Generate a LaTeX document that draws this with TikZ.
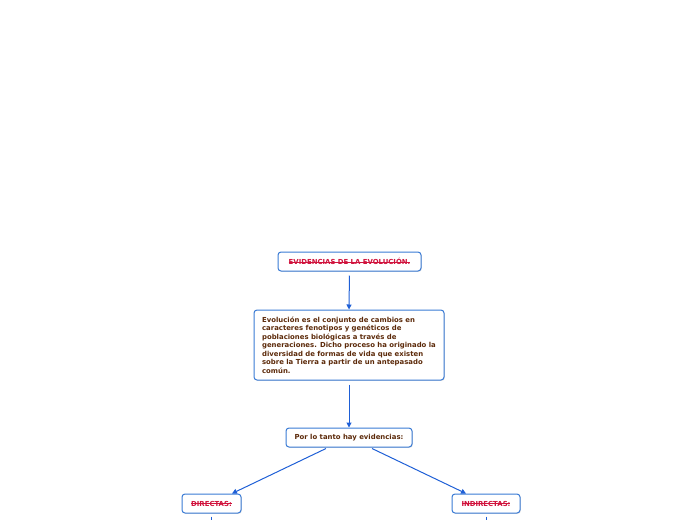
\documentclass[tikz,border=0pt]{standalone}
\usepackage{fontspec}
\setmainfont{DejaVu Sans}
\usetikzlibrary{arrows.meta,shadows}
\definecolor{boxblue}{HTML}{3A7BD5}
\definecolor{linkblue}{HTML}{1E5FD6}
\definecolor{txtbrown}{HTML}{5C2A0A}
\definecolor{txtred}{HTML}{D0123C}
\newsavebox{\strikebox}
\newcommand{\redstrike}[1]{{\color{txtred}\sbox{\strikebox}{#1}\rlap{\raisebox{0.32em}{\rule{\wd\strikebox}{0.5pt}}}\usebox{\strikebox}}}
\begin{document}
\begin{tikzpicture}[x=1pt,y=1pt,
  box/.style={draw=boxblue, line width=1pt, rounded corners=3pt, fill=white,
    drop shadow={shadow xshift=0.8pt, shadow yshift=-0.8pt, opacity=0.25},
    font=\bfseries\fontsize{6.9}{8.5}\selectfont, text=txtbrown, inner sep=0pt},
  link/.style={draw=linkblue, line width=1pt, -{Triangle[length=5pt,width=5pt]}},
  stub/.style={draw=linkblue, line width=1pt}]
\useasboundingbox (0,0) rectangle (696,-520);
\node[box, minimum width=143pt, minimum height=19pt] (title) at (349.5,-261.5)
  {\redstrike{EVIDENCIAS DE LA EVOLUCIÓN.}};
\node[box, minimum width=190pt, minimum height=70pt, align=left] (main) at (349,-345)
  {Evolución es el conjunto de cambios en\\
   caracteres fenotipos y genéticos de\\
   poblaciones biológicas a través de\\
   generaciones. Dicho proceso ha originado la\\
   diversidad de formas de vida que existen\\
   sobre la Tierra a partir de un antepasado\\
   común.};
\node[box, minimum width=126pt, minimum height=19pt] (por) at (349,-437.5)
  {Por lo tanto hay evidencias:};
\node[box, minimum width=59pt, minimum height=19pt] (dir) at (211.5,-503.5)
  {\redstrike{DIRECTAS:}};
\node[box, minimum width=68pt, minimum height=19pt] (ind) at (486,-503.5)
  {\redstrike{INDIRECTAS:}};
\coordinate (dirend) at (211.5,-520);
\coordinate (indend) at (486,-520);
\draw[link, shorten <=4pt] (title.south) -- (main.north);
\draw[link, shorten <=4pt] (main.south) -- (por.north);
\draw[link] ([xshift=-23pt,yshift=-1pt]por.south) -- ([xshift=20.5pt]dir.north);
\draw[link] ([xshift=23pt,yshift=-1pt]por.south) -- ([xshift=-20pt]ind.north);
\draw[stub] ([yshift=-3pt]dir.south) -- (dirend);
\draw[stub] ([yshift=-3pt]ind.south) -- (indend);
\end{tikzpicture}
\end{document}
